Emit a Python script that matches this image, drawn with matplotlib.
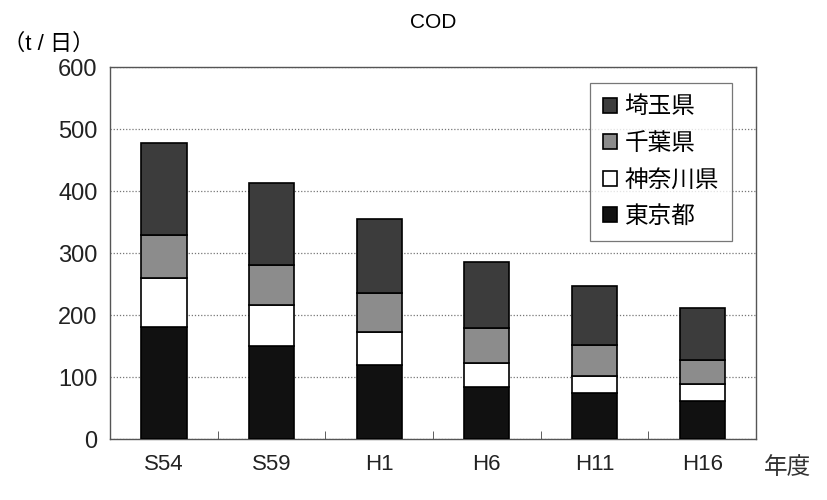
import matplotlib.pyplot as plt
import numpy as np

plt.rcParams['font.family'] = ['Liberation Sans', 'Noto Sans CJK JP', 'DejaVu Sans']

years = ['S54', 'S59', 'H1', 'H6', 'H11', 'H16']
tokyo = [181, 150, 119, 84, 74, 62]
kanagawa = [79, 66, 53, 38, 28, 27]
chiba = [69, 65, 64, 57, 50, 38]
saitama = [148, 132, 119, 107, 95, 85]

series = [
    ('東京都', tokyo, '#111111'),
    ('神奈川県', kanagawa, '#ffffff'),
    ('千葉県', chiba, '#8c8c8c'),
    ('埼玉県', saitama, '#3c3c3c'),
]

fig = plt.figure(figsize=(8.28, 5.0), dpi=100)
ax = fig.add_axes([0.133, 0.122, 0.780, 0.744])

x = np.arange(len(years))
bottom = np.zeros(len(years))
handles = []
for name, vals, col in series:
    b = ax.bar(x, vals, 0.42, bottom=bottom, color=col, edgecolor='black',
               linewidth=1.2, label=name, zorder=3)
    handles.append(b)
    bottom += np.array(vals)

ax.set_xlim(-0.5, len(years) - 0.5)
ax.set_ylim(0, 600)
ax.set_yticks(range(0, 601, 100))
ax.set_xticks(x)
ax.set_xticklabels(years)
ax.set_xticks(x[:-1] + 0.5, minor=True)
ax.tick_params(axis='x', which='major', length=0, pad=11, labelsize=16, labelcolor='#222222')
ax.tick_params(axis='x', which='minor', direction='in', length=6, color='#444444')
ax.tick_params(axis='y', length=0, pad=9, labelsize=17, labelcolor='#222222')

ax.grid(axis='y', linestyle=(0, (1, 1.5)), color='#777777', linewidth=0.9, zorder=0)
for s in ax.spines.values():
    s.set_color('#555555')
    s.set_linewidth(1.0)

ax.set_title('COD', fontsize=15, pad=28)
fig.text(0.004, 0.90, '（t / 日）', fontsize=16)
fig.text(0.922, 0.052, '年度', fontsize=17, color='#333333')

leg = ax.legend(handles[::-1], [h.get_label() for h in handles[::-1]],
                loc='upper right', bbox_to_anchor=(0.963, 0.956), fontsize=17,
                frameon=True, fancybox=False, edgecolor='#555555',
                handlelength=0.6, handleheight=0.6, handletextpad=0.3,
                labelspacing=0.62, borderpad=0.55, borderaxespad=0)
leg.get_frame().set_linewidth(0.9)

fig.savefig('out.png', dpi=100)
